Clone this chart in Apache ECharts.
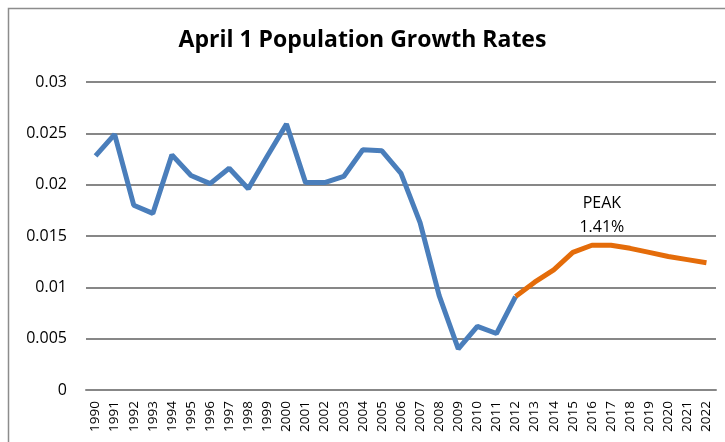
<!DOCTYPE html>
<html>
<head>
<meta charset="utf-8">
<script src="https://cdn.jsdelivr.net/npm/echarts@6/dist/echarts.min.js"></script>
<style>
  html, body { margin: 0; padding: 0; background: #fff; }
  #container { width: 725px; height: 442px; }
</style>
</head>
<body>
<div id="container"></div>
<script>
var years = [];
for (var y = 1990; y <= 2022; y++) years.push(String(y));

// 1990 - 2012
var actualRates = [0.0228, 0.0249, 0.0180, 0.0172, 0.0229, 0.0209, 0.0201, 0.0216, 0.0196, 0.0228,
                   0.0259, 0.0202, 0.0202, 0.0208, 0.0234, 0.0233, 0.0211, 0.0163, 0.0092, 0.0040,
                   0.0062, 0.0055, 0.0091];
// 2012 - 2022
var projectedRates = [0.0091, 0.0105, 0.0117, 0.0134, 0.0141, 0.0141, 0.0138, 0.0134, 0.0130, 0.0127, 0.0124];
var peakYear = '2016';
var peakLabel = 'PEAK\n1.41%';

var yTicks = [0, 0.005, 0.01, 0.015, 0.02, 0.025, 0.03];

var blueData = actualRates.concat(new Array(years.length - actualRates.length).fill(null));
var orangeData = new Array(years.length - projectedRates.length).fill(null).concat(projectedRates);
var peakValue = projectedRates[years.indexOf(peakYear) - (years.length - projectedRates.length)];

var dom = document.getElementById("container");
var myChart = echarts.init(dom);
var option = {
  animation: false,
  backgroundColor: '#fff',
  textStyle: { fontFamily: 'Open Sans' },
  title: {
    text: 'April 1 Population Growth Rates',
    left: 'center',
    top: 24,
    textStyle: { fontFamily: 'Open Sans', fontWeight: 'bold', fontSize: 23, color: '#000' }
  },
  graphic: [{
    type: 'rect',
    shape: { x: 8.5, y: 8.5, width: 760, height: 480 },
    style: { fill: 'none', stroke: '#8c8c8c', lineWidth: 1.5 },
    z: -1
  }],
  grid: { left: 86, right: 9, top: 82, bottom: 52 },
  xAxis: {
    type: 'category',
    data: years,
    boundaryGap: true,
    axisLine: { lineStyle: { color: '#878787', width: 2 } },
    axisTick: { show: false },
    axisLabel: { rotate: 90, interval: 0, fontSize: 13.5, color: '#000', margin: 11 }
  },
  yAxis: {
    type: 'value',
    min: yTicks[0],
    max: yTicks[yTicks.length - 1],
    interval: 0.005,
    axisLine: { show: false },
    axisTick: { show: false },
    splitLine: { lineStyle: { color: '#878787', width: 2 } },
    axisLabel: { fontSize: 16, color: '#000', margin: 19 }
  },
  series: [{
    name: 'Actual',
    type: 'line',
    data: blueData,
    symbol: 'none',
    lineStyle: { color: '#4a7ebb', width: 5 },
    itemStyle: { color: '#4a7ebb' },
    z: 2
  }, {
    name: 'Projected',
    type: 'line',
    data: orangeData,
    symbol: 'none',
    lineStyle: { color: '#e46c0a', width: 5 },
    itemStyle: { color: '#e46c0a' },
    z: 3,
    markPoint: {
      symbol: 'circle',
      symbolSize: 0,
      data: [{ coord: [peakYear, peakValue] }],
      label: {
        show: true,
        formatter: peakLabel,
        color: '#000',
        fontSize: 16,
        lineHeight: 24,
        offset: [10, -30]
      }
    }
  }]
};
myChart.setOption(option, true);
window.onresize = myChart.resize;
</script>
</body>
</html>
